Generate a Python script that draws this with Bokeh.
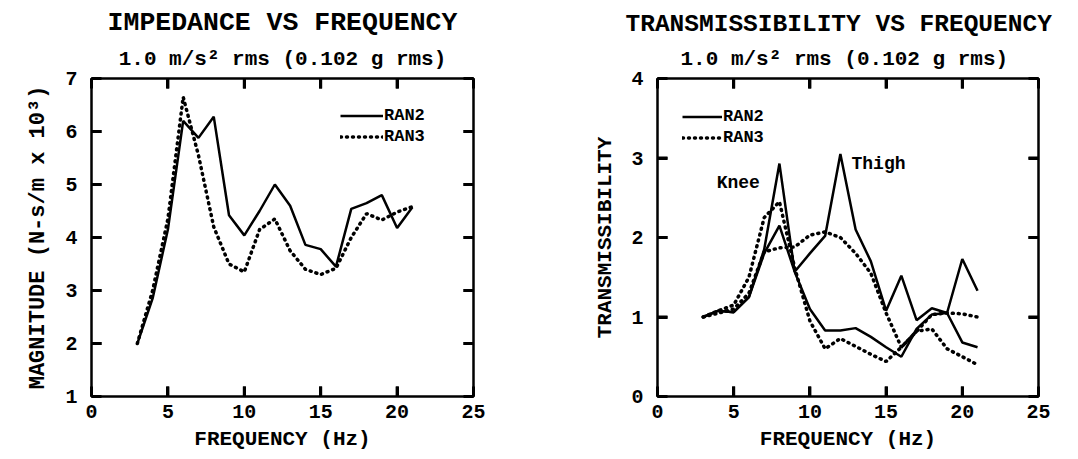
from bokeh.plotting import figure
from bokeh.models import Range1d, FixedTicker, LinearAxis, Label, Legend, LegendItem, Title
from bokeh.layouts import row
from bokeh.embed import file_html
from bokeh.resources import INLINE

# ---------------- data ----------------
freq = [3, 4, 5, 6, 7, 8, 9, 10, 11, 12, 13, 14, 15, 16, 17, 18, 19, 20, 21]

# Impedance magnitude (N-s/m x 10^3)
imp_ran2 = [2.0, 2.85, 4.15, 6.2, 5.88, 6.28, 4.42, 4.04, 4.5, 5.0, 4.6, 3.86, 3.78, 3.45, 4.54, 4.65, 4.8, 4.18, 4.57]
imp_ran3 = [2.0, 3.0, 4.35, 6.65, 5.55, 4.2, 3.5, 3.35, 4.15, 4.35, 3.75, 3.4, 3.3, 3.42, 4.0, 4.45, 4.33, 4.48, 4.58]

# Transmissibility
knee_ran2 = [1.0, 1.08, 1.06, 1.25, 1.85, 2.93, 1.57, 1.1, 0.83, 0.83, 0.86, 0.75, 0.62, 0.5, 0.85, 1.03, 1.05, 0.68, 0.62]
knee_ran3 = [1.0, 1.08, 1.15, 1.5, 2.25, 2.45, 1.62, 0.95, 0.6, 0.73, 0.63, 0.53, 0.44, 0.62, 0.82, 0.85, 0.6, 0.5, 0.4]
thigh_ran2 = [1.0, 1.08, 1.06, 1.25, 1.8, 2.15, 1.57, 1.8, 2.02, 3.05, 2.1, 1.7, 1.08, 1.52, 0.96, 1.11, 1.05, 1.73, 1.33]
thigh_ran3 = [1.0, 1.05, 1.1, 1.3, 1.82, 1.87, 1.88, 2.03, 2.07, 2.0, 1.8, 1.55, 1.05, 0.62, 0.82, 1.03, 1.05, 1.04, 1.0]

x_ticks = [0, 5, 10, 15, 20, 25]
imp_yticks = [1, 2, 3, 4, 5, 6, 7]
tr_yticks = [0, 1, 2, 3, 4]

FONT = "Liberation Mono"
SUB = "1.0 m/s\u00b2 rms (0.102 g rms)"
TICK_PX = 10


def make_fig(width, height, bl, br, bt, bb, yr, yticks, ylabel, ylsize, t1, t1size, align, off1, off2):
    p = figure(width=width, height=height, x_range=Range1d(0, 25), y_range=Range1d(*yr),
               output_backend="svg", toolbar_location=None,
               min_border_left=bl, min_border_right=br, min_border_top=bt, min_border_bottom=bb)
    p.grid.visible = False
    p.outline_line_color = "black"
    p.outline_line_width = 2.5
    p.background_fill_color = None
    p.border_fill_color = "white"
    p.title.visible = False
    right = LinearAxis()
    top = LinearAxis()
    p.add_layout(right, "right")
    p.add_layout(top, "above")
    p.add_layout(Title(text=SUB, align=align, offset=off2, text_font=FONT,
                       text_font_style="bold", text_font_size="21px", text_color="black",
                       standoff=15), "above")
    p.add_layout(Title(text=t1, align=align, offset=off1, text_font=FONT,
                       text_font_style="bold", text_font_size=t1size, text_color="black",
                       standoff=2), "above")
    bottom = p.below[0]
    left = p.left[0]
    for ax in (bottom, top):
        ax.ticker = FixedTicker(ticks=x_ticks)
    for ax in (left, right):
        ax.ticker = FixedTicker(ticks=yticks)
    for ax in (bottom, top, left, right):
        ax.axis_line_color = None
        ax.major_tick_in = TICK_PX
        ax.major_tick_out = 0
        ax.major_tick_line_width = 3
        ax.major_tick_line_color = "black"
        ax.minor_tick_line_color = None
        ax.major_label_text_font = FONT
        ax.major_label_text_font_style = "bold"
        ax.major_label_text_font_size = "20px"
        ax.major_label_text_color = "black"
        ax.axis_label_text_font = FONT
        ax.axis_label_text_font_style = "bold"
        ax.axis_label_text_font_size = "21px"
        ax.axis_label_text_color = "black"
    top.major_label_overrides = {t: "" for t in x_ticks}
    right.major_label_overrides = {t: "" for t in yticks}
    top.major_label_standoff = 0
    right.major_label_standoff = 0
    bottom.major_label_standoff = 8
    left.major_label_standoff = 14
    bottom.axis_label = "FREQUENCY (Hz)"
    bottom.axis_label_standoff = 7
    left.axis_label = ylabel
    left.axis_label_text_font_size = ylsize
    left.axis_label_standoff = 11

    # inward tick marks on all four sides of the frame (from the tick lists)
    fw = width - bl - br
    fh = height - bt - bb
    xa, xb = 0, 25
    ya, yb = yr
    dx = TICK_PX * (xb - xa) / fw
    dy = TICK_PX * (yb - ya) / fh
    xt = [t for t in x_ticks if xa < t < xb]
    yt = [t for t in yticks if ya < t < yb]
    tk = dict(line_color="black", line_width=3)
    p.segment(x0=xt, y0=[ya] * len(xt), x1=xt, y1=[ya + dy] * len(xt), **tk)
    p.segment(x0=xt, y0=[yb] * len(xt), x1=xt, y1=[yb - dy] * len(xt), **tk)
    p.segment(x0=[xa] * len(yt), y0=yt, x1=[xa + dx] * len(yt), y1=yt, **tk)
    p.segment(x0=[xb] * len(yt), y0=yt, x1=[xb - dx] * len(yt), y1=yt, **tk)
    return p


def label(p, x, y, text, size):
    p.add_layout(Label(x=x, y=y, text=text, text_align="center", text_baseline="middle",
                       text_font=FONT, text_font_style="bold", text_font_size=size,
                       text_color="black"))


def legend(p, items, loc, gw):
    lg = Legend(items=items, location=loc, background_fill_alpha=0, border_line_color=None,
                padding=0, margin=0, spacing=0, glyph_width=gw, glyph_height=21,
                label_height=21, label_standoff=1, label_text_font=FONT,
                label_text_font_style="bold", label_text_font_size="17px",
                label_text_color="black")
    p.add_layout(lg)


SOLID = dict(line_color="black", line_width=2.5)
DOTS = dict(line_color="black", line_width=3.5, line_dash="1 5", line_cap="round")

# ---------------- left: impedance ----------------
p1 = make_fig(545, 453, 91, 72, 78, 56, (1, 7), imp_yticks, "MAGNITUDE (N-s/m x 10\u00b3)", "22px",
              "IMPEDANCE VS FREQUENCY", "26.5px", "center", 0, 0)
r1 = p1.line(freq, imp_ran2, **SOLID)
r2 = p1.line(freq, imp_ran3, **DOTS)
legend(p1, [LegendItem(label="RAN2", renderers=[r1]), LegendItem(label="RAN3", renderers=[r2])],
       (249, 249), 43)

# ---------------- right: transmissibility ----------------
p2 = make_fig(525, 453, 112, 32, 78, 56, (0, 4), tr_yticks, "TRANSMISSIBILITY", "21px",
              "TRANSMISSIBILITY VS FREQUENCY", "24.5px", "left", -32, 23)
k2 = p2.line(freq, knee_ran2, **SOLID)
k3 = p2.line(freq, knee_ran3, **DOTS)
t2 = p2.line(freq, thigh_ran2, **SOLID)
t3 = p2.line(freq, thigh_ran3, **DOTS)
label(p2, 5.3, 2.68, "Knee", "18px")
label(p2, 14.5, 2.93, "Thigh", "18px")
legend(p2, [LegendItem(label="RAN2", renderers=[k2]), LegendItem(label="RAN3", renderers=[k3])],
       (25, 248), 40)

layout = row(p1, p2)
open("out.html", "w").write(file_html(layout, INLINE))
